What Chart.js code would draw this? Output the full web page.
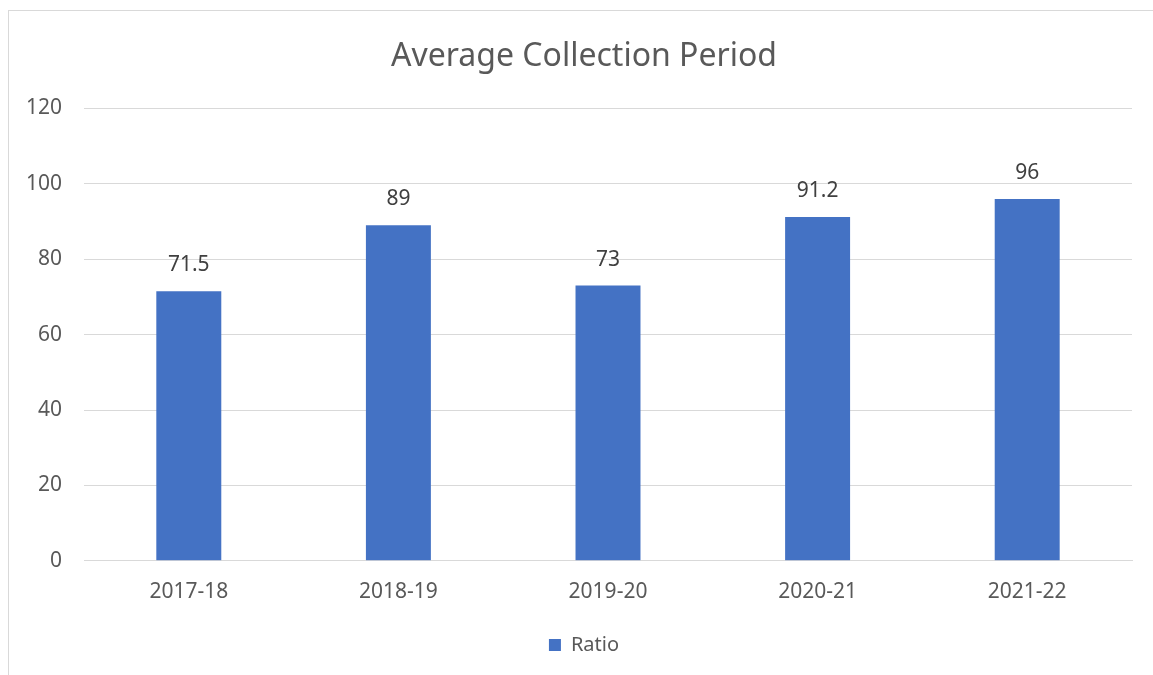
<!DOCTYPE html>
<html>
<head>
<meta charset="utf-8">
<script src="https://cdn.jsdelivr.net/npm/chart.js"></script>
<style>
  body { margin: 0; background: #fff; }
  #wrap { position: relative; width: 1153px; height: 675px; }
  #frame { position: absolute; left: 8px; top: 10px; width: 1160px; height: 680px;
           border-left: 1px solid #d9d9d9; border-top: 1px solid #d9d9d9; }
  canvas { position: absolute; left: 0; top: 0; }
</style>
</head>
<body>
<div id="wrap">
  <div id="frame"></div>
  <canvas id="myChart" width="1153" height="675"></canvas>
</div>
<script>
// data
var years = ['2017-18', '2018-19', '2019-20', '2020-21', '2021-22'];
var ratio = [71.5, 89, 73, 91.2, 96];

var fontName = '"Noto Sans", "Open Sans", sans-serif';

// labels above the bars
var barLabels = {
    id: 'barLabels',
    afterLayout: function(chart){
        // let the y tick labels spill past the left padding without clipping
        chart.scales.y.left = 0;
    },
    afterDatasetsDraw: function(chart){
        var ctx = chart.ctx;
        var meta = chart.getDatasetMeta(0);
        ctx.save();
        ctx.font = '21px ' + fontName;
        ctx.fillStyle = '#404040';
        ctx.textAlign = 'center';
        ctx.textBaseline = 'middle';
        meta.data.forEach(function(bar, i){
            ctx.fillText(ratio[i], bar.x, bar.y - 26);
        });
        ctx.restore();
    }
};

var ctx = document.getElementById('myChart').getContext('2d');
var myChart = new Chart(ctx, {
    type: 'bar',
    data: {
        labels: years,
        datasets: [{
            label: 'Ratio',
            data: ratio,
            backgroundColor: '#4472C4',
            categoryPercentage: 1,
            barPercentage: 0.31
        }]
    },
    options: {
        responsive: false,
        animation: false,
        layout: { padding: { left: 36, right: 21, top: 0, bottom: 10 } },
        plugins: {
            title: {
                display: true,
                text: 'Average Collection Period',
                color: '#595959',
                font: { family: fontName, size: 32, weight: 'normal' },
                padding: { top: 38, bottom: 32 }
            },
            legend: {
                position: 'bottom',
                labels: {
                    color: '#595959',
                    font: { family: fontName, size: 20 },
                    boxWidth: 12,
                    boxHeight: 12,
                    padding: 11
                }
            },
            tooltip: { enabled: false }
        },
        scales: {
            x: {
                grid: { display: false, drawTicks: false },
                border: { display: true, color: '#d9d9d9' },
                ticks: { color: '#595959', font: { family: fontName, size: 21 }, padding: 19 }
            },
            y: {
                min: 0,
                max: 120,
                ticks: { stepSize: 20, color: '#595959', font: { family: fontName, size: 21 }, padding: 22 },
                grid: { color: '#d9d9d9', drawTicks: false },
                border: { display: false },
                afterFit: function(scale){ scale.width = 48; }
            }
        }
    },
    plugins: [barLabels]
});
</script>
</body>
</html>
